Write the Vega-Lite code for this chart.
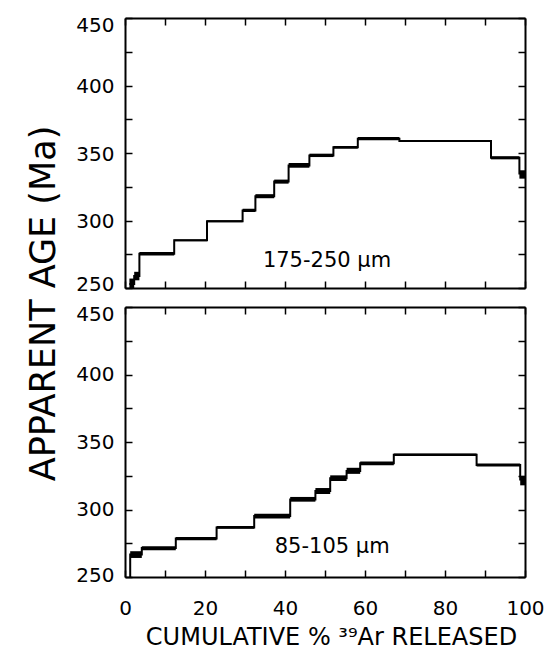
{
  "$schema": "https://vega.github.io/schema/vega-lite/v6.json",
  "padding": {"left": 26, "top": 15, "right": 2, "bottom": 0},
  "background": "white",
  "bounds": "flush",
  "spacing": 19,
  "config": {
    "font": "DejaVu Sans",
    "view": {"stroke": null},
    "axis": {
      "grid": false,
      "domainColor": "black",
      "domainWidth": 2,
      "tickColor": "black",
      "tickWidth": 1.5,
      "tickSize": -7,
      "labelColor": "black",
      "labelFont": "DejaVu Sans",
      "labelFontSize": 20,
      "labelFlush": false,
      "labelOverlap": false,
      "titleColor": "black",
      "titleFont": "DejaVu Sans",
      "titleFontWeight": "normal"
    }
  },
  "datasets": {
    "coarse": [
      {"start": 1.1, "end": 2.3, "lo": 249, "hi": 257, "age": 253},
      {"start": 2.3, "end": 3.6, "lo": 255.7, "hi": 262, "age": 258.8},
      {"start": 3.6, "end": 12.3, "lo": 274, "hi": 276.7, "age": 275.3},
      {"start": 12.3, "end": 20.5, "lo": 284.6, "hi": 286, "age": 285.3},
      {"start": 20.5, "end": 29.4, "lo": 298.7, "hi": 300.1, "age": 299.4},
      {"start": 29.4, "end": 32.6, "lo": 306.3, "hi": 308.7, "age": 307.5},
      {"start": 32.6, "end": 37.3, "lo": 316.5, "hi": 319.5, "age": 318},
      {"start": 37.3, "end": 40.9, "lo": 327.3, "hi": 330.3, "age": 328.8},
      {"start": 40.9, "end": 46.1, "lo": 339.1, "hi": 342.6, "age": 340.8},
      {"start": 46.1, "end": 52.1, "lo": 347, "hi": 349.5, "age": 348.2},
      {"start": 52.1, "end": 58.2, "lo": 353.2, "hi": 355.2, "age": 354.2},
      {"start": 58.2, "end": 68.6, "lo": 359.4, "hi": 361.9, "age": 360.6},
      {"start": 68.6, "end": 91.5, "lo": 358.3, "hi": 359.3, "age": 358.8},
      {"start": 91.5, "end": 98.6, "lo": 345.3, "hi": 347.6, "age": 346.5},
      {"start": 98.6, "end": 100, "lo": 331, "hi": 337.2, "age": 334}
    ],
    "fine": [
      {"start": 0, "end": 1.3, "lo": 220, "hi": 240, "age": 230},
      {"start": 1.3, "end": 4.2, "lo": 264.1, "hi": 269.1, "age": 266.6},
      {"start": 4.2, "end": 12.7, "lo": 269.9, "hi": 272.8, "age": 271.4},
      {"start": 12.7, "end": 22.9, "lo": 277.3, "hi": 279.7, "age": 278.5},
      {"start": 22.9, "end": 32.3, "lo": 285.7, "hi": 287.7, "age": 286.7},
      {"start": 32.3, "end": 41.3, "lo": 293.4, "hi": 296.8, "age": 295.1},
      {"start": 41.3, "end": 47.6, "lo": 305.8, "hi": 309.3, "age": 307.5},
      {"start": 47.6, "end": 51.3, "lo": 311.5, "hi": 315.9, "age": 313.7},
      {"start": 51.3, "end": 55.4, "lo": 321.1, "hi": 325.3, "age": 323.2},
      {"start": 55.4, "end": 58.8, "lo": 326.4, "hi": 330.9, "age": 328.6},
      {"start": 58.8, "end": 67.2, "lo": 332.8, "hi": 335.5, "age": 334.2},
      {"start": 67.2, "end": 87.9, "lo": 339.7, "hi": 341.5, "age": 340.6},
      {"start": 87.9, "end": 98.8, "lo": 331.8, "hi": 334, "age": 332.9},
      {"start": 98.8, "end": 100, "lo": 317.9, "hi": 324.9, "age": 321.4}
    ]
  },
  "vconcat": [
    {
      "width": 400,
      "height": 270,
      "layer": [
        {
          "data": {"name": "coarse"},
          "mark": {"type": "rect", "color": "black", "clip": true},
          "encoding": {
            "x": {"field": "start", "type": "quantitative",
              "scale": {"domain": [0, 100], "nice": false, "zero": false},
              "axis": {"orient": "bottom", "values": [0,10,20,30,40,50,60,70,80,90,100], "labels": false, "title": null}},
            "x2": {"field": "end"},
            "y": {"field": "lo", "type": "quantitative",
              "scale": {"domain": [250, 450], "nice": false, "zero": false},
              "axis": {"orient": "left", "values": [250,275,300,325,350,375,400,425,450],
                "labelExpr": "datum.value % 50 === 0 ? datum.label : ''", "labelPadding": 18,
                "labelOffset": {"condition": [{"test": "datum.value === 450", "value": 7}, {"test": "datum.value === 250", "value": -4}], "value": 1},
                "title": "APPARENT AGE (Ma)", "titleFontSize": 35, "titleAngle": -90,
                "titleX": -71, "titleY": 285, "titleAlign": "center", "titleBaseline": "alphabetic"}},
            "y2": {"field": "hi"}
          }
        },
        {
          "data": {"name": "coarse"},
          "mark": {"type": "line", "interpolate": "step-after", "color": "black", "strokeWidth": 2, "clip": true},
          "encoding": {
            "x": {"field": "start", "type": "quantitative",
              "axis": {"orient": "top", "values": [0,10,20,30,40,50,60,70,80,90,100], "labels": false, "title": null}},
            "y": {"field": "age", "type": "quantitative",
              "axis": {"orient": "right", "values": [250,275,300,325,350,375,400,425,450], "labels": false, "title": null}}
          }
        },
        {
          "data": {"values": [{"x": 50.5, "y": 265.5, "label": "175-250 µm"}]},
          "mark": {"type": "text", "font": "DejaVu Sans", "fontSize": 21, "color": "black", "align": "center", "baseline": "alphabetic"},
          "encoding": {
            "x": {"field": "x", "type": "quantitative", "axis": null},
            "y": {"field": "y", "type": "quantitative", "axis": null},
            "text": {"field": "label"}
          }
        }
      ],
      "resolve": {"axis": {"x": "independent", "y": "independent"}}
    },
    {
      "width": 400,
      "height": 270,
      "layer": [
        {
          "data": {"name": "fine"},
          "mark": {"type": "rect", "color": "black", "clip": true},
          "encoding": {
            "x": {"field": "start", "type": "quantitative",
              "scale": {"domain": [0, 100], "nice": false, "zero": false},
              "axis": {"orient": "bottom", "values": [0,10,20,30,40,50,60,70,80,90,100],
                "labelExpr": "datum.value % 20 === 0 ? datum.label : ''", "labelPadding": 28,
                "title": "CUMULATIVE % ³⁹Ar RELEASED", "titleFontSize": 24,
                "titleX": 206, "titleY": 67, "titleAlign": "center", "titleBaseline": "alphabetic"}},
            "x2": {"field": "end"},
            "y": {"field": "lo", "type": "quantitative",
              "scale": {"domain": [250, 450], "nice": false, "zero": false},
              "axis": {"orient": "left", "values": [250,275,300,325,350,375,400,425,450],
                "labelExpr": "datum.value % 50 === 0 ? datum.label : ''", "labelPadding": 18,
                "labelOffset": {"condition": [{"test": "datum.value === 450", "value": 7}, {"test": "datum.value === 250", "value": -2}], "value": 0},
                "title": null}},
            "y2": {"field": "hi"}
          }
        },
        {
          "data": {"name": "fine"},
          "mark": {"type": "line", "interpolate": "step-after", "color": "black", "strokeWidth": 2, "clip": true},
          "encoding": {
            "x": {"field": "start", "type": "quantitative",
              "axis": {"orient": "top", "values": [0,10,20,30,40,50,60,70,80,90,100], "labels": false, "title": null}},
            "y": {"field": "age", "type": "quantitative",
              "axis": {"orient": "right", "values": [250,275,300,325,350,375,400,425,450], "labels": false, "title": null}}
          }
        },
        {
          "data": {"values": [{"x": 51.8, "y": 267.8, "label": "85-105 µm"}]},
          "mark": {"type": "text", "font": "DejaVu Sans", "fontSize": 21, "color": "black", "align": "center", "baseline": "alphabetic"},
          "encoding": {
            "x": {"field": "x", "type": "quantitative", "axis": null},
            "y": {"field": "y", "type": "quantitative", "axis": null},
            "text": {"field": "label"}
          }
        }
      ],
      "resolve": {"axis": {"x": "independent", "y": "independent"}}
    }
  ]
}
